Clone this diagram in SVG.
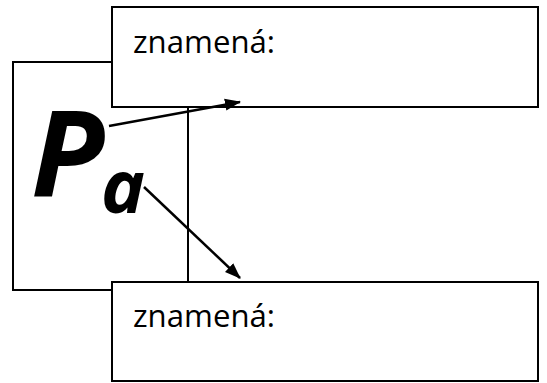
<svg xmlns="http://www.w3.org/2000/svg" width="547" height="383" viewBox="0 0 547 383">
<defs>
<style>
.box{fill:#fff;stroke:#000;stroke-width:2}
.lbl{font-family:"Open Sans","Liberation Sans",sans-serif;font-size:31px;fill:#000}
.big{font-family:"Open Sans","Liberation Sans",sans-serif;font-weight:bold;font-style:italic;fill:#000}
.con{stroke:#000;stroke-width:2.5;fill:none}
</style>
<marker id="ah" viewBox="0 0 16 14" refX="15" refY="7" markerWidth="16" markerHeight="14" markerUnits="userSpaceOnUse" orient="auto">
<path d="M0,1 L16,7 L0,13 z" fill="#000"/>
</marker>
</defs>
<g id="frame">
<rect class="box" x="13" y="62" width="175" height="228"/>
</g>
<g id="top-box">
<rect class="box" x="112" y="7" width="426" height="100"/>
<text class="lbl" x="133" y="53" textLength="142" lengthAdjust="spacingAndGlyphs">znamená:</text>
</g>
<g id="bottom-box">
<rect class="box" x="112" y="282" width="426" height="99"/>
<text class="lbl" x="133" y="327" textLength="142" lengthAdjust="spacingAndGlyphs">znamená:</text>
</g>
<g id="symbol">
<text class="big" x="31" y="197" font-size="120">P</text>
<text class="big" x="101" y="213" font-size="74">a</text>
</g>
<g id="connectors">
<line class="con" x1="109" y1="126" x2="240" y2="102" marker-end="url(#ah)"/>
<line class="con" x1="144" y1="187" x2="240" y2="278" marker-end="url(#ah)"/>
</g>
</svg>
